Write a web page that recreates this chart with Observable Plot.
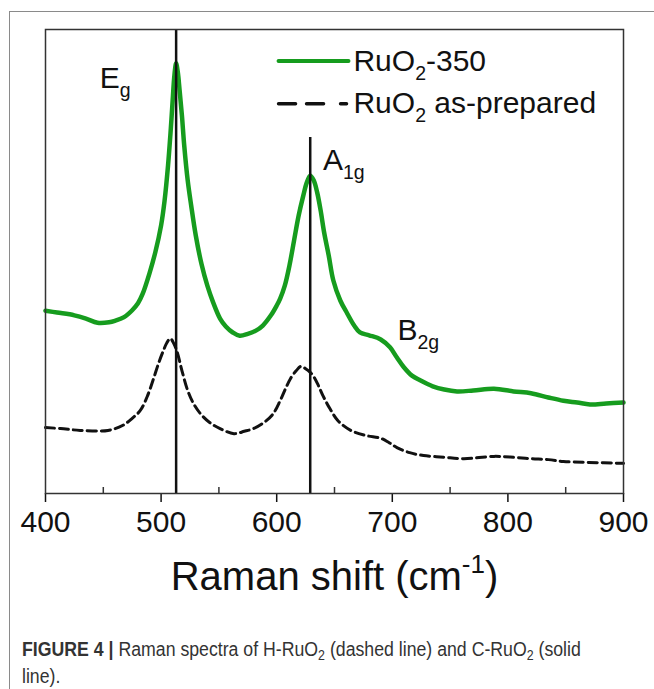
<!DOCTYPE html>
<html><head><meta charset="utf-8">
<script src="https://cdn.jsdelivr.net/npm/d3@7"></script>
<script src="https://cdn.jsdelivr.net/npm/@observablehq/plot@0.6"></script>
<style>
body{margin:0;background:#fff;width:654px;height:689px;overflow:hidden;position:relative;font-family:"Liberation Sans",Arial,sans-serif}
#border{position:absolute;left:9px;top:11px;right:0;bottom:0;border-top:1.5px solid #8a8a8a;border-left:1.5px solid #8a8a8a}
#chart{position:absolute;left:0;top:0}
#caption{position:absolute;left:22px;top:636px;font-family:"Liberation Sans",Arial,sans-serif;font-size:20px;line-height:27px;color:#333;white-space:nowrap;transform:scaleX(0.885);transform-origin:0 0}
#caption sub{font-size:0.7em;vertical-align:-0.25em;line-height:0}
</style></head><body>
<div id="border"></div><div id="chart"></div>
<div id="caption"><b>FIGURE 4 |</b> Raman spectra of H-RuO<sub>2</sub> (dashed line) and C-RuO<sub>2</sub> (solid<br>line).</div>
<script>
// Raman shift (cm^-1) and intensity (a.u.)
const shift350 = [400,410,425,435,445,455,460,468,475,480,484,490,495,500,503,506,508,510,511.5,513,514.5,516,518,520,523,526,530,535,540,545,551,556,562,568,575,582,588,595,600,603,607,611,615,619,623,626,629,632,635,638,641,645,649,655,661,667,672,680,690,698,704,710,717,724,735,745,756,770,788,805,820,835,848,860,871,885,900];
const intensity350 = [39.4,39.0,38.4,37.7,36.8,36.9,37.2,38.0,39.5,41.0,43.0,47.5,52.0,57.8,63.1,70.7,77.2,84.7,90.1,92.7,90.7,86.9,81.5,75.0,67.5,62.1,55.6,49.4,44.8,41.2,37.7,36.0,34.7,34.0,34.4,35.1,36.2,38.4,40.5,42.0,44.8,49.1,54.5,59.9,64.2,67.0,68.5,67.5,64.9,61.0,56.3,51.3,45.9,41.6,38.8,36.2,34.7,34.1,33.2,31.5,29.3,27.2,25.4,24.4,23.1,22.4,22.0,22.2,22.6,22.0,21.6,20.7,20.0,19.6,19.2,19.4,19.6];
const shiftPrep = [400,413,430,454,467,475,482,488,493,498,502,505,508,511,514,518,523,528,534,542,551,563,572,580,590,597,603,608,612,617,621,625,629,632,636,640,646,653,664,677,690,697,704,715,727,745,762,788,805,820,835,848,870,900];
const intensityPrep = [14.2,14.0,13.6,13.6,14.7,16.2,17.9,20.9,24.4,28.2,30.8,32.5,33.4,32.3,30.4,26.5,22.2,19.4,17.2,15.3,14.0,12.9,13.4,14.0,15.5,17.2,20.0,22.8,24.8,26.5,27.4,26.9,26.1,25.2,23.3,21.1,18.3,15.7,13.6,12.5,11.9,11.0,9.9,8.8,8.2,7.8,7.5,8.0,7.8,7.5,7.3,6.9,6.7,6.5];
const peakPositions = [513, 629];
const peakLineTops = [100, 76.7];
const peakLabels = ["E_{g}", "A_{1g}", "B_{2g}"];
const peakLabelX = [447, 640, 704.5];
const peakLabelY = [89.4, 71.8, 35.1];
const majorTicks = [400, 500, 600, 700, 800, 900];
const minorTicks = [450, 550, 650, 750, 850];
const seriesNames = ["RuO_{2}-350", "RuO_{2} as-prepared"];
const xTitle = "Raman shift (cm^{-1})";

const green = "#169c1e";
const data350 = shift350.map((x, i) => ({x, y: intensity350[i]}));
const dataPrep = shiftPrep.map((x, i) => ({x, y: intensityPrep[i]}));
const peaks = peakPositions.map((x, i) => ({x, top: peakLineTops[i]}));
const labels = peakLabels.map((t, i) => ({t, x: peakLabelX[i], y: peakLabelY[i]}));
// legend rows (data coordinates of the legend box)
const legGreen = [{x: 601.6, y: 93.2}, {x: 662.1, y: 93.2}];
const legDash = [{x: 601.6, y: 84.0}, {x: 660.4, y: 84.0}];
const legText = [{t: seriesNames[0], x: 666.4, y: 93.2}, {t: seriesNames[1], x: 666.4, y: 84.0}];

const W = 654, H = 610, mT = 29, mB = 117;
const plot = Plot.plot({
  width: W, height: H, marginLeft: 45, marginRight: 31, marginTop: mT, marginBottom: mB,
  x: {domain: [400, 900]},
  y: {domain: [0, 100], axis: null},
  style: {fontFamily: "'Liberation Sans', Arial, sans-serif", background: "transparent", color: "#111", overflow: "visible"},
  marks: [
    Plot.ruleX(minorTicks, {stroke: "#333", strokeWidth: 1.5, insetTop: H - mT - mB - 6}),
    Plot.line(dataPrep, {x: "x", y: "y", stroke: "#111", strokeWidth: 3, strokeDasharray: "9,5", curve: "catmull-rom"}),
    Plot.line(data350, {x: "x", y: "y", stroke: green, strokeWidth: 4.5, curve: "catmull-rom"}),
    Plot.ruleX(peaks, {x: "x", y1: 0, y2: "top", stroke: "#111", strokeWidth: 2.5}),
    Plot.axisX({ticks: majorTicks, tickSize: 9, tickPadding: 8, fontSize: 30, strokeWidth: 1.5, tickFormat: d => String(d), label: null}),
    Plot.frame({stroke: "#333", strokeWidth: 1.5}),
    Plot.text(labels, {x: "x", y: "y", text: "t", textAnchor: "start", fontSize: 30, fill: "#111"}),
    Plot.line(legGreen, {x: "x", y: "y", stroke: green, strokeWidth: 4}),
    Plot.line(legDash, {x: "x", y: "y", stroke: "#111", strokeWidth: 3.5, strokeDasharray: "17,11,17,17,6"}),
    Plot.text(legText, {x: "x", y: "y", text: "t", textAnchor: "start", fontSize: 30, fill: "#111"}),
    Plot.text([xTitle], {frameAnchor: "bottom", dy: 96, fontSize: 40, fill: "#111"})
  ]
});
document.getElementById("chart").appendChild(plot);

// turn _{..} and ^{..} into sub/superscript tspans
function richify(svg) {
  svg.querySelectorAll("text").forEach(t => {
    const s = t.textContent;
    if (!/[_^]\{/.test(s)) return;
    const fs = parseFloat(getComputedStyle(t).fontSize);
    t.textContent = "";
    const re = /([_^])\{([^}]*)\}/g;
    let last = 0, m, shift = 0;
    const add = (str, kind) => {
      const sp = document.createElementNS("http://www.w3.org/2000/svg", "tspan");
      sp.textContent = str;
      const target = kind === "_" ? fs * 0.3 : kind === "^" ? -fs * 0.42 : 0;
      sp.setAttribute("dy", target - shift);
      shift = target;
      if (kind) sp.setAttribute("font-size", fs * 0.65);
      t.appendChild(sp);
    };
    while ((m = re.exec(s))) {
      if (m.index > last) add(s.slice(last, m.index), null);
      add(m[2], m[1]);
      last = re.lastIndex;
    }
    if (last < s.length) add(s.slice(last), null);
  });
}
richify(plot);
</script></body></html>
